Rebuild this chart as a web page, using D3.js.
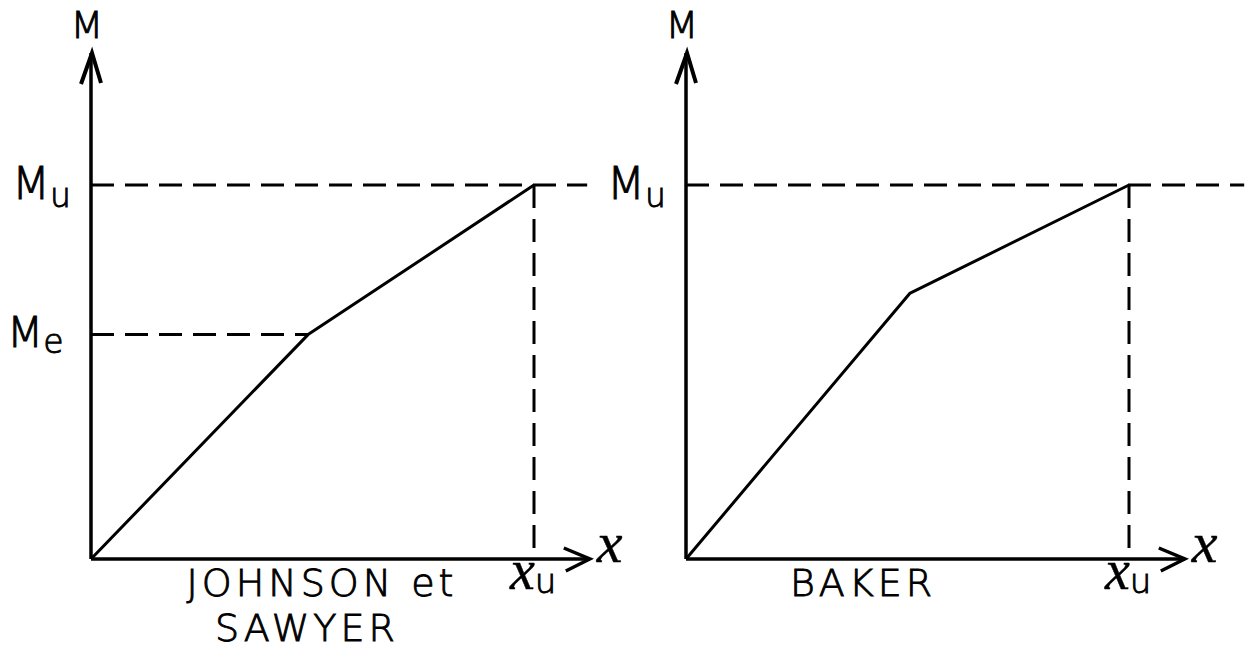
<!DOCTYPE html>
<html>
<head>
<meta charset="utf-8">
<script src="https://cdn.jsdelivr.net/npm/d3@7"></script>
<style>
  html, body { margin: 0; padding: 0; background: #fff; }
  svg { display: block; }
  .lbl { font-family: "DejaVu Sans", sans-serif; font-weight: 200; fill: #000; stroke: #000; stroke-width: 0.9; }
  .chi { font-family: "Liberation Serif", serif; font-style: italic; fill: #000; stroke: #000; stroke-width: 0.4; }
</style>
</head>
<body>
<svg id="chart" width="1256" height="672"></svg>
<script>
// Moment–curvature idealisations (normalised: curvature / χu, moment / Mu)
const panelNames = ["JOHNSON et SAWYER", "BAKER"];
const titleLines = [["JOHNSON et", "SAWYER"], ["BAKER"]];
const curvatureJohnson = [0, 0.49, 1];
const momentJohnson = [0, 0.60, 1];
const curvatureBaker = [0, 0.505, 1];
const momentBaker = [0, 0.71, 1];
const curvatures = [curvatureJohnson, curvatureBaker];
const moments = [momentJohnson, momentBaker];
const showMe = [true, false];

const svg = d3.select("#chart");
const panelLeft = [91, 686];
const panelWidth = 443;
const y = d3.scaleLinear().domain([0, 1]).range([559, 185]);

panelNames.forEach((name, i) => {
  const x = d3.scaleLinear().domain([0, 1]).range([panelLeft[i], panelLeft[i] + panelWidth]);
  const g = svg.append("g").attr("class", "panel").attr("data-name", name);
  const pts = curvatures[i].map((c, k) => [c, moments[i][k]]);
  const xu = curvatures[i][curvatures[i].length - 1];
  const mu = moments[i][moments[i].length - 1];

  // dashed reference lines
  const dash = "23,11";
  g.append("line")
    .attr("x1", x(0)).attr("x2", x(i === 0 ? 1.12 : 1.26))
    .attr("y1", y(mu)).attr("y2", y(mu))
    .attr("stroke", "#000").attr("stroke-width", 3).attr("stroke-dasharray", dash);
  g.append("line")
    .attr("x1", x(xu)).attr("x2", x(xu))
    .attr("y1", y(mu)).attr("y2", y(0))
    .attr("stroke", "#000").attr("stroke-width", 3).attr("stroke-dasharray", dash);
  if (showMe[i]) {
    g.append("line")
      .attr("x1", x(0)).attr("x2", x(pts[1][0]))
      .attr("y1", y(pts[1][1])).attr("y2", y(pts[1][1]))
      .attr("stroke", "#000").attr("stroke-width", 3).attr("stroke-dasharray", dash);
  }

  // axes
  const xEnd = x(1.126), yTop = y(1.353);
  g.append("line").attr("x1", x(0)).attr("x2", xEnd).attr("y1", y(0)).attr("y2", y(0))
    .attr("stroke", "#000").attr("stroke-width", 3.5);
  g.append("line").attr("x1", x(0)).attr("x2", x(0)).attr("y1", y(0)).attr("y2", yTop)
    .attr("stroke", "#000").attr("stroke-width", 3.5);
  // arrow heads (open)
  g.append("path")
    .attr("d", `M${xEnd - 26},${y(0) - 11} L${xEnd},${y(0)} L${xEnd - 24},${y(0) + 12}`)
    .attr("fill", "none").attr("stroke", "#000").attr("stroke-width", 3.5).attr("stroke-linejoin", "miter");
  g.append("path")
    .attr("d", `M${x(0) - 10},${yTop + 31} L${x(0) + 1},${yTop} L${x(0) + 10},${yTop + 30}`)
    .attr("fill", "none").attr("stroke", "#000").attr("stroke-width", 4).attr("stroke-linejoin", "miter");

  // curve
  g.append("path")
    .datum(pts)
    .attr("d", d3.line().x(d => x(d[0])).y(d => y(d[1])))
    .attr("fill", "none").attr("stroke", "#000").attr("stroke-width", 3).attr("stroke-linejoin", "round");

  // axis labels
  g.append("text").attr("class", "lbl").attr("x", x(0) - 4).attr("y", 38)
    .attr("text-anchor", "middle").attr("font-size", 38).text("M");
  g.append("text").attr("class", "chi").attr("x", xEnd + 7).attr("y", y(0) + 3)
    .attr("font-size", 58).text("x");

  // Mu / Me labels
  const mu_t = g.append("text").attr("class", "lbl").attr("x", x(0) - 79).attr("y", y(mu) + 14)
    .attr("font-size", 44);
  mu_t.append("tspan").text("M");
  mu_t.append("tspan").attr("dy", 8).attr("font-size", 33).text("u");
  if (showMe[i]) {
    const me_t = g.append("text").attr("class", "lbl").attr("x", x(0) - 84).attr("y", y(pts[1][1]) + 12)
      .attr("font-size", 42);
    me_t.append("tspan").text("M");
    me_t.append("tspan").attr("dy", 6).attr("font-size", 33).text("e");
  }

  // χu label under the axis
  const xu_t = g.append("text").attr("x", x(xu) - 24).attr("y", y(0) + 30);
  xu_t.append("tspan").attr("class", "chi").attr("font-size", 56).text("x");
  xu_t.append("tspan").attr("class", "lbl").attr("dy", 4).attr("font-size", 34).text("u");

  // panel title
  titleLines[i].forEach((line, k) => {
    g.append("text").attr("class", "lbl")
      .attr("x", i === 0 ? (k === 0 ? 322 : 307) : 863)
      .attr("y", 596 + k * 45)
      .attr("text-anchor", "middle")
      .attr("font-size", 38).attr("letter-spacing", 4)
      .text(line);
  });
});
</script>
</body>
</html>
